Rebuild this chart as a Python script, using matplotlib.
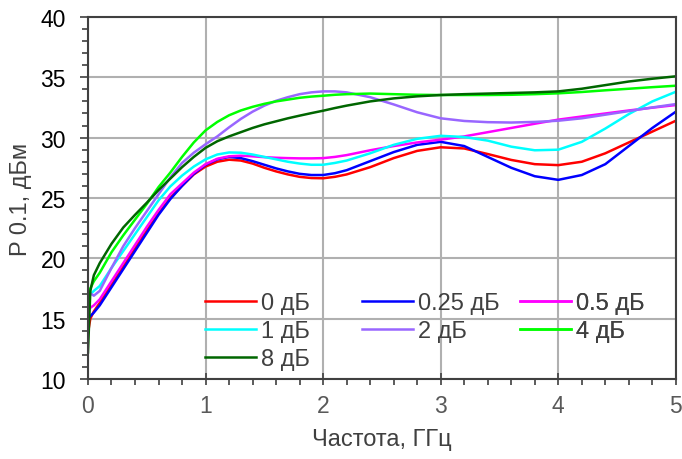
import matplotlib
matplotlib.use("Agg")
import matplotlib.pyplot as plt
from matplotlib.ticker import MultipleLocator

plt.rcParams["font.family"] = ["Liberation Sans", "DejaVu Sans"]

# frequency grid, GHz
freq = [0, 0.02, 0.05, 0.1, 0.2, 0.3, 0.4, 0.5, 0.6, 0.7, 0.8, 0.9,
        1.0, 1.1, 1.2, 1.3, 1.4, 1.5, 1.6, 1.7, 1.8, 1.9, 2.0, 2.1, 2.2,
        2.4, 2.6, 2.8, 3.0, 3.2, 3.4, 3.6, 3.8, 4.0, 4.2, 4.4, 4.6, 4.8, 5.0]

# P 0.1, dBm for each attenuation state
p_0 = [13.8, 15.0, 15.6, 16.3, 17.8, 19.3, 20.8, 22.3, 23.7, 25.0, 26.0, 26.95,
       27.6, 28.0, 28.17, 28.1, 27.85, 27.5, 27.2, 26.95, 26.75, 26.65, 26.63, 26.75, 26.95,
       27.55, 28.3, 28.9, 29.2, 29.1, 28.64, 28.15, 27.8, 27.72, 28.0, 28.7, 29.6, 30.5, 31.4]
p_025 = [15.0, 15.2, 15.5, 16.1, 17.6, 19.1, 20.6, 22.1, 23.6, 24.9, 26.0, 27.0,
         27.75, 28.2, 28.4, 28.3, 28.05, 27.75, 27.45, 27.2, 27.0, 26.9, 26.9, 27.05, 27.3,
         28.05, 28.8, 29.4, 29.65, 29.3, 28.4, 27.5, 26.8, 26.5, 26.9, 27.8, 29.3, 30.8, 32.15]
p_05 = [15.6, 15.9, 16.1, 16.6, 18.1, 19.6, 21.1, 22.6, 24.0, 25.3, 26.2, 27.1,
        27.8, 28.25, 28.45, 28.5, 28.45, 28.38, 28.33, 28.3, 28.28, 28.28, 28.3, 28.4, 28.55,
        28.95, 29.3, 29.6, 29.83, 30.1, 30.45, 30.8, 31.15, 31.49, 31.75, 32.0, 32.25, 32.48, 32.7]
p_1 = [16.5, 17.0, 17.3, 17.7, 19.2, 20.6, 22.0, 23.4, 24.8, 25.95, 26.85, 27.6,
       28.2, 28.6, 28.77, 28.75, 28.6, 28.4, 28.2, 28.0, 27.85, 27.75, 27.75, 27.9, 28.1,
       28.7, 29.4, 29.9, 30.15, 30.05, 29.75, 29.25, 28.95, 29.0, 29.65, 30.75, 31.95, 33.0, 33.8]
p_2 = [17.4, 17.1, 16.9, 17.3, 19.2, 21.0, 22.5, 23.9, 25.3, 26.7, 27.9, 28.75,
       29.45, 30.1, 30.85, 31.55, 32.15, 32.65, 33.05, 33.35, 33.6, 33.75, 33.83, 33.83, 33.75,
       33.35, 32.75, 32.1, 31.6, 31.38, 31.28, 31.25, 31.3, 31.4, 31.6, 31.9, 32.2, 32.5, 32.78]
p_4 = [16.0, 17.5, 18.1, 18.8, 20.5, 21.9, 23.2, 24.5, 25.9, 27.1, 28.4, 29.6,
       30.6, 31.3, 31.85, 32.25, 32.55, 32.8, 33.0, 33.15, 33.3, 33.4, 33.47, 33.55, 33.6,
       33.65, 33.6, 33.55, 33.53, 33.53, 33.53, 33.55, 33.6, 33.67, 33.78, 33.92, 34.05, 34.18, 34.3]
p_8 = [12.2, 17.3, 18.6, 19.6, 21.2, 22.55, 23.6, 24.6, 25.65, 26.6, 27.55, 28.4,
       29.15, 29.7, 30.1, 30.45, 30.8, 31.1, 31.35, 31.6, 31.82, 32.03, 32.23, 32.45, 32.65,
       33.0, 33.25, 33.42, 33.53, 33.6, 33.65, 33.7, 33.75, 33.83, 34.05, 34.35, 34.65, 34.88, 35.08]

labels = ["0 дБ", "0.25 дБ", "0.5 дБ", "1 дБ", "2 дБ", "4 дБ", "8 дБ"]
colors = ["#ff0000", "#0000ff", "#ff00ff", "#00ffff", "#9966ff", "#00ff00", "#006600"]
series = [p_0, p_025, p_05, p_1, p_2, p_4, p_8]

fig = plt.figure(figsize=(6.82, 4.60), dpi=100)
ax = fig.add_axes([0.129, 0.174, 0.862, 0.787])

lines = []
for vals, col, lab in zip(series, colors, labels):
    ln, = ax.plot(freq, vals, color=col, lw=1.8, label=lab)
    lines.append(ln)

ax.set_xlim(0, 5)
ax.set_ylim(10, 40)
ax.xaxis.set_major_locator(MultipleLocator(1))
ax.xaxis.set_minor_locator(MultipleLocator(0.2))
ax.yaxis.set_major_locator(MultipleLocator(5))
ax.yaxis.set_minor_locator(MultipleLocator(1))
ax.grid(True, which="major", color="#b0b0b0", lw=1.5)
ax.set_axisbelow(True)

for sp in ax.spines.values():
    sp.set_color("#404040")
    sp.set_linewidth(1.5)

ax.tick_params(axis="x", which="major", direction="inout", length=8, width=1.2,
               color="#404040", labelsize=16.5, labelcolor="#595959", pad=7)
ax.tick_params(axis="x", which="minor", direction="out", length=4, width=1.2, color="#404040")
ax.tick_params(axis="y", which="major", direction="out", length=6, width=1.2,
               color="#404040", labelsize=16.5, labelcolor="black", pad=10)
ax.tick_params(axis="y", which="minor", direction="out", length=4, width=1.2, color="#404040")

ax.set_xlabel("Частота, ГГц", fontsize=17, color="#404040", labelpad=8)
ax.set_ylabel("P 0.1, дБм", fontsize=17, color="#404040", labelpad=6)

# legend: three columns with equal spacing, row-major order
cols = [[0, 3, 6], [1, 4], [2, 5]]
xs = [0.199, 0.466, 0.735]
for idx, x0 in zip(cols, xs):
    leg = ax.legend([lines[i] for i in idx], [labels[i] for i in idx],
                    loc="upper left", bbox_to_anchor=(x0, 0.24), borderaxespad=0,
                    borderpad=0, frameon=False, fontsize=17, handlelength=2.15,
                    handletextpad=0.22, labelspacing=0.25, labelcolor="#404040")
    ax.add_artist(leg)

fig.savefig("out.png", dpi=100)
